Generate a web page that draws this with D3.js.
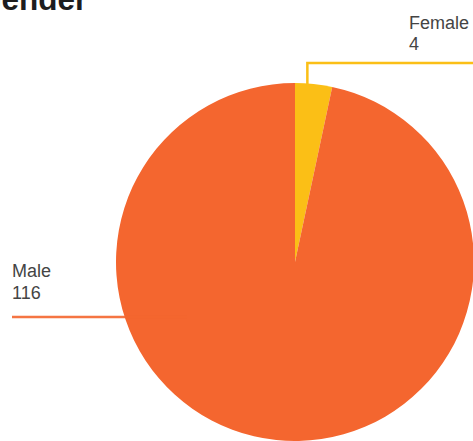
<!DOCTYPE html>
<html>
<head>
<meta charset="utf-8">
<script src="https://cdn.jsdelivr.net/npm/d3@7"></script>
<style>
  html, body { margin: 0; padding: 0; background: #ffffff; overflow: hidden; }
  svg { display: block; font-family: "Liberation Sans", Arial, Helvetica, sans-serif; }
</style>
</head>
<body>
<svg id="chart" width="473" height="441"></svg>
<script>
// Gender breakdown
const categories = ["Female", "Male"];
const values = [4, 116];
const colors = ["#FBBF16", "#F4662F"];

const svg = d3.select("#chart");
const cx = 295, cy = 262, radius = 179;

const pie = d3.pie().sort(null).value(d => d.value);
const arcs = pie(categories.map((c, i) => ({ name: c, value: values[i], color: colors[i] })));
const arc = d3.arc().innerRadius(0).outerRadius(radius);

const g = svg.append("g").attr("transform", `translate(${cx},${cy})`);
g.selectAll("path.slice")
  .data(arcs)
  .join("path")
  .attr("class", "slice")
  .attr("d", arc)
  .attr("fill", d => d.data.color);

// Title
svg.append("text")
  .attr("x", -23)
  .attr("y", 10)
  .attr("font-size", 31.5)
  .attr("font-weight", "bold")
  .attr("fill", "#1d1d1f")
  .text("Gender");

// Callout lines and labels
const female = arcs[0], male = arcs[1];
const fx = cx + radius * Math.sin(female.startAngle + (female.endAngle - female.startAngle) * 0.33);
const fy = cy - Math.sqrt(radius * radius - (fx - cx) * (fx - cx));
svg.append("path")
  .attr("d", `M${fx},${fy + 2} V63 H474`)
  .attr("fill", "none")
  .attr("stroke", female.data.color)
  .attr("stroke-width", 2.5);

svg.append("path")
  .attr("d", `M12,317 H187`)
  .attr("fill", "none")
  .attr("stroke", male.data.color)
  .attr("stroke-width", 2.5)
  .attr("stroke-opacity", 0.9);

const labelColor = "#444444";
function label(x, y, d) {
  const t = svg.append("text").attr("font-size", 18).attr("fill", labelColor);
  t.append("tspan").attr("x", x).attr("y", y).text(d.data.name);
  t.append("tspan").attr("x", x).attr("y", y + 21.5).text(d.data.value);
}
label(409, 28.5, female);
label(12, 277, male);
</script>
</body>
</html>
